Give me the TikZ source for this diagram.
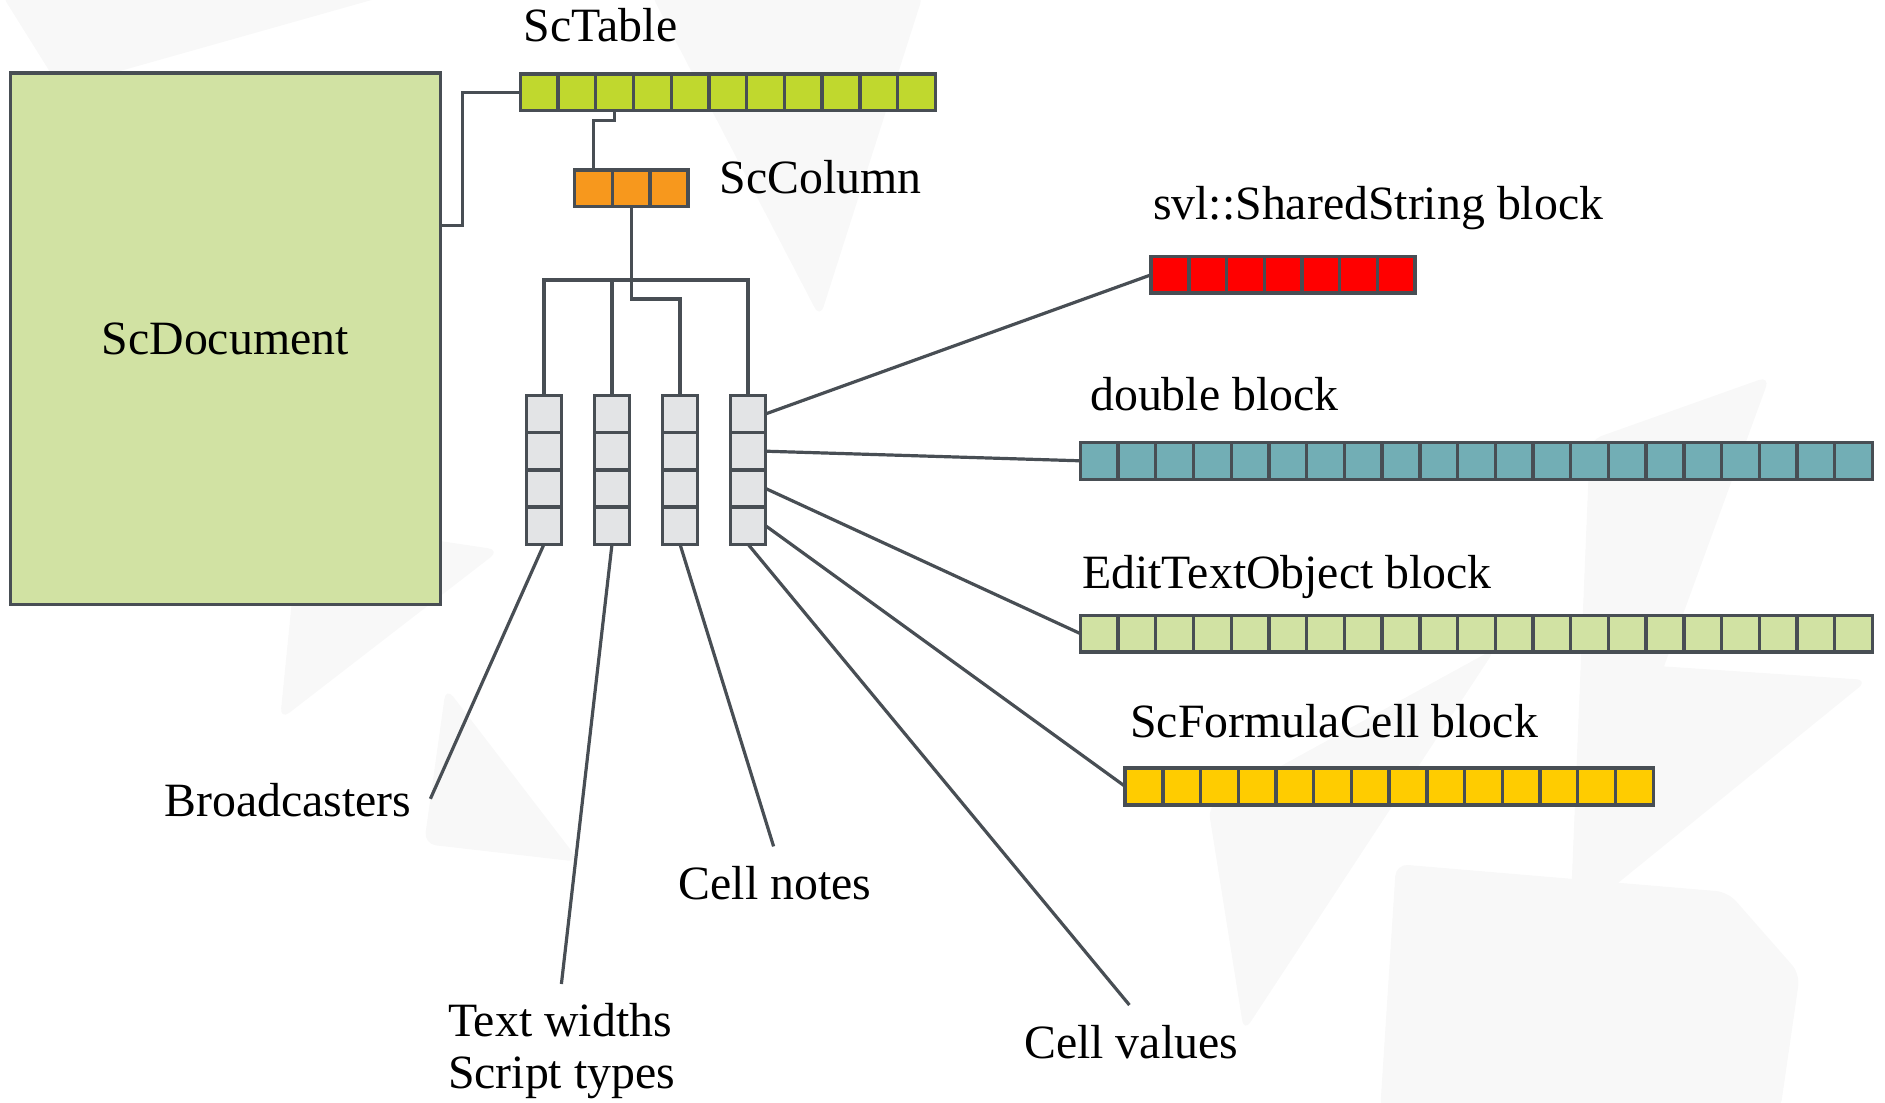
\documentclass[tikz,border=0pt]{standalone}
\usepackage{fontspec}
\setmainfont{Liberation Serif}
\usepackage{xcolor}
\usepackage{tikz}
\usetikzlibrary{positioning, calc}
\definecolor{sedge}{RGB}{72, 78, 84}
\definecolor{sdoc}{RGB}{209, 226, 163}
\definecolor{stable}{RGB}{192, 216, 46}
\definecolor{scol}{RGB}{247, 152, 29}
\definecolor{scell}{RGB}{227, 228, 230}
\definecolor{sstr}{RGB}{255, 0, 0}
\definecolor{sdbl}{RGB}{114, 174, 181}
\definecolor{sfml}{RGB}{255, 204, 0}
\definecolor{sbg}{RGB}{248, 248, 248}

\begin{document}
\begin{tikzpicture}[
    cell/.style={draw=sedge, line width=0.085cm, minimum width=0.943cm, minimum height=0.92cm, inner sep=0, outer sep=0},
    stack/.style={cell, fill=scell, minimum width=0.87cm, minimum height=0.93cm},
    link/.style={draw=sedge, line width=0.08cm},
    lbl/.style={anchor=base west, inner sep=0, font=\fontsize{34}{38}\selectfont},
    bgshape/.style={fill=sbg, rounded corners=0.3cm},
]
    \useasboundingbox (0,0) rectangle (47.125,-27.575);

    % faint background shapes
    \fill[bgshape] (0,0.2) -- (10,0.2) -- (1.5,-2.2) -- cycle;
    \fill[bgshape] (16.25,0.2) -- (23.1,0.2) -- (20.5,-7.95) -- cycle;
    \fill[bgshape] (7.5,-13) -- (12.5,-13.75) -- (7,-18) -- cycle;
    \fill[bgshape] (11.15,-17.18) -- (10.6,-21.1) -- (14.5,-21.55) -- cycle;
    \fill[bgshape] (44.25,-9.4) -- (39.75,-11) -- (39.25,-23.1) -- cycle;
    \fill[bgshape] (39.95,-16.55) -- (46.7,-17) -- (39.25,-23.05) -- cycle;
    \fill[bgshape] (30.2,-20.15) -- (37.4,-16.2) -- (31.1,-25.8) -- cycle;
    \fill[bgshape] (34.9,-21.6) -- (43.2,-22.3) -- (45,-24.35) -- (44.5,-27.8) -- (34.5,-27.8) -- cycle;

    % ScDocument
    \node[draw=sedge, line width=0.085cm, fill=sdoc, minimum width=10.75cm, minimum height=13.28cm,
          font=\fontsize{34}{38}\selectfont] (doc) at (5.63,-8.47) {ScDocument};

    % ScTable
    \foreach \i in {1,...,11}
        \node[cell, fill=stable] (tab-\i) at ({13.48+(\i-1)*0.943},-2.31) {};
    \node[lbl] (tablbl) at (13.09,-1.04) {ScTable};

    % ScColumn
    \foreach \i in {1,...,3}
        \node[cell, fill=scol] (col-\i) at ({14.84+(\i-1)*0.943},-4.71) {};
    \node[lbl] (collbl) at (17.99,-4.84) {ScColumn};

    % column stores
    \foreach \k/\x in {1/13.6, 2/15.3, 3/17.0, 4/18.7}
        \foreach \j in {1,...,4}
            \node[stack] (s\k-\j) at (\x,{-10.35-(\j-1)*0.93}) {};

    % element blocks
    \foreach \i in {1,...,7}
        \node[cell, fill=sstr] (str-\i) at ({29.25+(\i-1)*0.943},-6.87) {};
    \node[lbl] (strlbl) at (28.82,-5.5) {svl::SharedString block};

    \foreach \i in {1,...,21}
        \node[cell, fill=sdbl] (dbl-\i) at ({27.48+(\i-1)*0.943},-11.52) {};
    \node[lbl] (dbllbl) at (27.25,-10.265) {double block};

    \foreach \i in {1,...,21}
        \node[cell, fill=sdoc] (eto-\i) at ({27.48+(\i-1)*0.943},-15.84) {};
    \node[lbl] (etolbl) at (27.05,-14.7) {EditTextObject block};

    \foreach \i in {1,...,14}
        \node[cell, fill=sfml] (fml-\i) at ({28.60+(\i-1)*0.943},-19.66) {};
    \node[lbl] (fmllbl) at (28.25,-18.44) {ScFormulaCell block};

    % store labels
    \node[lbl] (bclbl) at (4.105,-20.41) {Broadcasters};
    \node[lbl] (twlbl) at (11.195,-25.9) {Text widths};
    \node[lbl] (stlbl) at (11.195,-27.22) {Script types};
    \node[lbl] (cnlbl) at (16.96,-22.48) {Cell notes};
    \node[lbl] (cvlbl) at (25.6,-26.45) {Cell values};

    \coordinate (bc-end) at (10.76,-19.97);
    \coordinate (tw-end) at (14.035,-24.6);
    \coordinate (cn-end) at (19.34,-21.16);
    \coordinate (cv-end) at (28.235,-25.125);
    \coordinate (hub) at ($(col-2.south)+(0,-1.83)$);

    % connectors
    \draw[link] (doc.east |- 0,-5.63) -- ++(0.505,0) |- (tab-1.west);
    \draw[link] (tab-3.south) -- ++(0,-0.245) -| (col-1.north);
    \draw[link] (col-2.south) -- (hub);
    \draw[link] (s1-1.north) |- (hub) -| (s4-1.north);
    \draw[link] (s2-1.north) -- (s2-1.north |- hub);
    \draw[link] (hub) -- ++(0,-0.475) -| (s3-1.north);

    \draw[link] (s4-1.east) -- (str-1.west);
    \draw[link] (s4-2.east) -- (dbl-1.west);
    \draw[link] (s4-3.east) -- (eto-1.west);
    \draw[link] (s4-4.east) -- (fml-1.west);

    \draw[link] (s1-4.south) -- (bc-end);
    \draw[link] (s2-4.south) -- (tw-end);
    \draw[link] (s3-4.south) -- (cn-end);
    \draw[link] (s4-4.south) -- (cv-end);
\end{tikzpicture}
\end{document}
